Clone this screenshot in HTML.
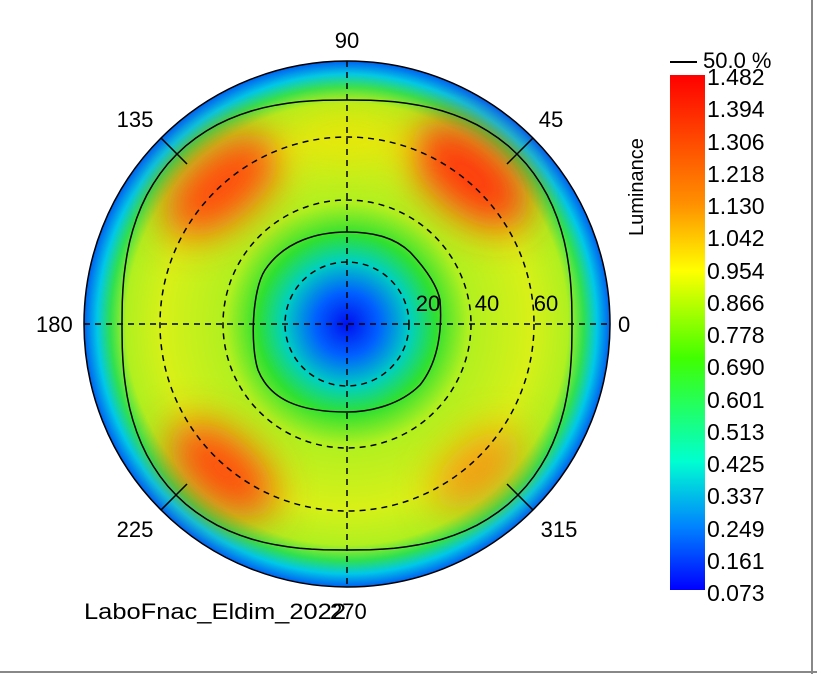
<!DOCTYPE html>
<html><head><style>
body{margin:0;background:#fff;width:817px;height:674px;overflow:hidden;position:relative;font-family:"Liberation Sans",sans-serif}
</style></head><body>
<svg width="817" height="674" style="position:absolute;left:0;top:0">
<defs>
<radialGradient id="base" cx="347" cy="324" r="263" gradientUnits="userSpaceOnUse">
<stop offset="0" stop-color="#0010f0"/>
<stop offset="0.12" stop-color="#0060ff"/>
<stop offset="0.24" stop-color="#00d0c0"/>
<stop offset="0.34" stop-color="#30e030"/>
<stop offset="0.46" stop-color="#b0f020"/>
<stop offset="0.7" stop-color="#d8f018"/>
<stop offset="0.84" stop-color="#b0f020"/>
<stop offset="0.9" stop-color="#30e050"/>
<stop offset="0.95" stop-color="#00c8e8"/>
<stop offset="1" stop-color="#0060f0"/>
</radialGradient>
<linearGradient id="cb" x1="0" y1="0" x2="0" y2="1">
<stop offset="0" stop-color="#ff0000"/>
<stop offset="0.25" stop-color="#ff9000"/>
<stop offset="0.38" stop-color="#ffff00"/>
<stop offset="0.55" stop-color="#40ff00"/>
<stop offset="0.75" stop-color="#00ffd0"/>
<stop offset="0.88" stop-color="#0080ff"/>
<stop offset="1" stop-color="#0000ff"/>
</linearGradient>
<filter id="bl" x="-50%" y="-50%" width="200%" height="200%"><feGaussianBlur stdDeviation="20"/></filter>
<clipPath id="cp"><circle cx="347" cy="324" r="263"/></clipPath>
</defs>
<circle cx="347" cy="324" r="263" fill="url(#base)"/>
<g clip-path="url(#cp)" filter="url(#bl)">
<ellipse cx="470" cy="175" rx="70" ry="38" fill="#ff3810" transform="rotate(40 470 175)"/>
<ellipse cx="222" cy="185" rx="68" ry="36" fill="#ff4810" transform="rotate(-40 222 185)"/>
<ellipse cx="222" cy="470" rx="62" ry="34" fill="#ff4810" transform="rotate(40 222 470)"/>
<ellipse cx="478" cy="470" rx="52" ry="28" fill="#ff8010" transform="rotate(-40 478 470)" opacity="0.8"/>
<ellipse cx="347" cy="135" rx="60" ry="28" fill="#f0e000" opacity="0.6"/>
</g>
<g fill="none" stroke="#000" stroke-width="1.5" stroke-dasharray="6,5">
<circle cx="347" cy="324" r="62"/><circle cx="347" cy="324" r="124"/><circle cx="347" cy="324" r="187"/>
<line x1="84" y1="324" x2="610" y2="324"/><line x1="347" y1="61" x2="347" y2="587"/>
</g>
<g fill="none" stroke="#000" stroke-width="1.5">
<path d="M347 232 C375 232 395 238 410 252 C425 268 437 285 440 300 C442 325 440 360 420 385 C400 405 370 412 347 412 C300 412 270 400 258 370 C250 345 252 290 265 270 C285 240 320 232 347 232Z"/>
<path id="outer" d=""/>
<circle cx="347" cy="324" r="263"/>
<line x1="161" y1="138" x2="187" y2="164"/>
<line x1="533" y1="138" x2="507" y2="164"/>
<line x1="161" y1="510" x2="187" y2="484"/>
<line x1="533" y1="510" x2="507" y2="484"/>
</g>
<g font-size="22" fill="#000">
<text x="347" y="48" text-anchor="middle">90</text>
<text x="135" y="127" text-anchor="middle">135</text>
<text x="551" y="127" text-anchor="middle">45</text>
<text x="36" y="332">180</text>
<text x="618" y="332">0</text>
<text x="135" y="537" text-anchor="middle">225</text>
<text x="559" y="537" text-anchor="middle">315</text>
<text x="428" y="311" text-anchor="middle">20</text>
<text x="487" y="311" text-anchor="middle">40</text>
<text x="546" y="311" text-anchor="middle">60</text>
<text x="84" y="619" textLength="262" lengthAdjust="spacingAndGlyphs">LaboFnac_Eldim_2022</text>
<text x="330" y="619">270</text>
</g>
<rect x="670" y="75" width="35" height="515" fill="url(#cb)"/>
<line x1="670" y1="62" x2="697" y2="62" stroke="#000" stroke-width="2"/>
<text x="703" y="68" font-size="22">50.0 %</text>
<text transform="translate(643 236) rotate(-90)" font-size="20">Luminance</text>
<g font-size="23" fill="#000">
<text x="707" y="85">1.482</text><text x="707" y="117">1.394</text><text x="707" y="150">1.306</text>
<text x="707" y="182">1.218</text><text x="707" y="214">1.130</text><text x="707" y="246">1.042</text>
<text x="707" y="279">0.954</text><text x="707" y="311">0.866</text><text x="707" y="343">0.778</text>
<text x="707" y="375">0.690</text><text x="707" y="408">0.601</text><text x="707" y="440">0.513</text>
<text x="707" y="472">0.425</text><text x="707" y="504">0.337</text><text x="707" y="537">0.249</text>
<text x="707" y="569">0.161</text><text x="707" y="601">0.073</text>
</g>
<line x1="812" y1="0" x2="812" y2="674" stroke="#888" stroke-width="2"/>
<line x1="0" y1="672" x2="817" y2="672" stroke="#888" stroke-width="2"/>
</svg>
<script>
(function(){var n=2.5,d="";for(var i=0;i<=360;i+=3){var t=i*Math.PI/180,c=Math.cos(t),s=Math.sin(t);
var r=225/Math.pow(Math.pow(Math.abs(c),n)+Math.pow(Math.abs(s),n),1/n);
d+=(i?"L":"M")+(347+r*c).toFixed(1)+" "+(325-r*s).toFixed(1);}
document.getElementById("outer").setAttribute("d",d+"Z");})();
</script>
</body></html>
